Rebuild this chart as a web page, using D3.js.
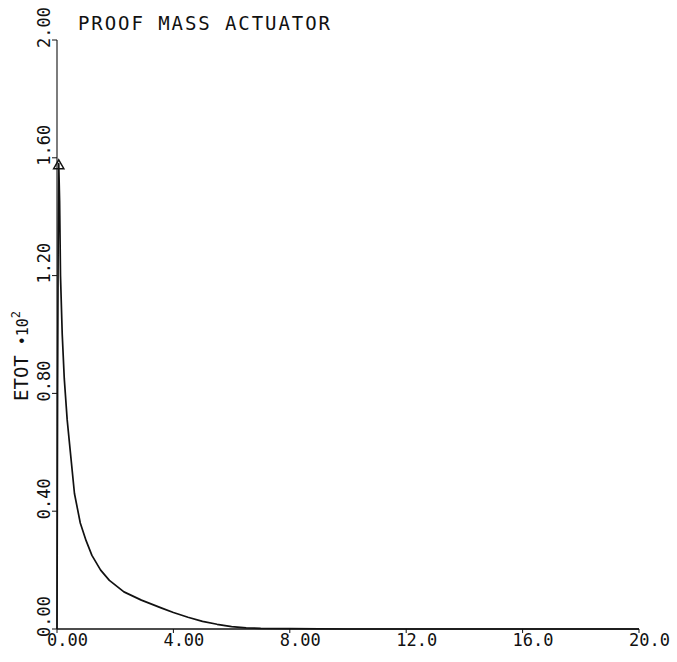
<!DOCTYPE html>
<html>
<head>
<meta charset="utf-8">
<script src="https://cdn.jsdelivr.net/npm/d3@7"></script>
<style>
  body { margin: 0; background: #fff; }
  text { font-family: "DejaVu Sans Mono", monospace; fill: #111; }
</style>
</head>
<body>
<svg id="chart" width="677" height="662"></svg>
<script>
// values (time, ETOT / 100)
const timeVals = [0, 0.02, 0.04, 0.06, 0.09, 0.12, 0.18, 0.25, 0.35, 0.45, 0.6, 0.8, 1.0, 1.2, 1.5, 1.8, 2.3, 2.9, 3.6, 4.0, 4.5, 5.0, 5.5, 6.0, 6.5, 7.0, 8.0, 10.0, 14.0, 20.0];
const etotVals = [0, 0.8, 1.3, 1.58, 1.45, 1.2, 1.0, 0.85, 0.71, 0.61, 0.46, 0.36, 0.3, 0.25, 0.2, 0.165, 0.126, 0.098, 0.071, 0.056, 0.04, 0.026, 0.016, 0.008, 0.004, 0.002, 0.001, 0, 0, 0];
const xTicks = [0, 4, 8, 12, 16, 20];
const xTickLabels = ["0.00", "4.00", "8.00", "12.0", "16.0", "20.0"];
const yTicks = [0, 0.4, 0.8, 1.2, 1.6, 2.0];
const yTickLabels = ["0.00", "0.40", "0.80", "1.20", "1.60", "2.00"];
const peakIndex = 3;

const svg = d3.select("#chart");

const x = d3.scaleLinear().domain([0, 20]).range([57, 639]);
const y = d3.scaleLinear().domain([0, 2]).range([629, 40]);

// axes lines
svg.append("line")
  .attr("x1", x(0)).attr("x2", x(20))
  .attr("y1", y(0)).attr("y2", y(0))
  .attr("stroke", "#111").attr("stroke-width", 1.3);
svg.append("line")
  .attr("x1", x(0)).attr("x2", x(0))
  .attr("y1", y(0)).attr("y2", y(2))
  .attr("stroke", "#111").attr("stroke-width", 1.1);

// x ticks
svg.selectAll("line.xtick")
  .data(xTicks)
  .enter()
  .append("line")
  .classed("xtick", true)
  .attr("x1", function (d) { return x(d); })
  .attr("x2", function (d) { return x(d); })
  .attr("y1", y(0))
  .attr("y2", y(0) + 4)
  .attr("stroke", "#111");

svg.selectAll("text.xlabel")
  .data(xTicks)
  .enter()
  .append("text")
  .classed("xlabel", true)
  .attr("x", function (d) { return x(d) - 10; })
  .attr("y", 646)
  .attr("font-size", 17)
  .attr("fill", "#444")
  .text(function (d, i) { return xTickLabels[i]; });

// y ticks
svg.selectAll("line.ytick")
  .data(yTicks)
  .enter()
  .append("line")
  .classed("ytick", true)
  .attr("x1", x(0) - 5)
  .attr("x2", x(0))
  .attr("y1", function (d) { return y(d); })
  .attr("y2", function (d) { return y(d); })
  .attr("stroke", "#111");

svg.selectAll("text.ylabel")
  .data(yTicks)
  .enter()
  .append("text")
  .classed("ylabel", true)
  .attr("transform", function (d) {
    return "translate(50," + (y(d) + 8) + ") rotate(-90)";
  })
  .attr("font-size", 17)
  .text(function (d, i) { return yTickLabels[i]; });

// axis title
const yTitle = svg.append("text")
  .attr("transform", "translate(28,401) rotate(-90)")
  .attr("font-size", 19);
yTitle.append("tspan").text("ETOT");
yTitle.append("tspan").attr("font-size", 15).attr("dx", 10).text("•10");
yTitle.append("tspan").attr("font-size", 12).attr("dy", -8).text("2");

// title
svg.append("text")
  .attr("x", 78)
  .attr("y", 30)
  .attr("font-size", 19)
  .attr("textLength", 252)
  .attr("lengthAdjust", "spacing")
  .text("PROOF MASS ACTUATOR");

// curve
const line = d3.line()
  .x(function (d) { return x(d[0]); })
  .y(function (d) { return y(d[1]); });

const pts = timeVals.map(function (t, i) { return [t, etotVals[i]]; });

svg.append("path")
  .datum(pts)
  .attr("d", line)
  .attr("fill", "none")
  .attr("stroke", "#111")
  .attr("stroke-width", 1.7)
  .attr("stroke-linejoin", "round");

// peak marker
svg.append("path")
  .attr("d", d3.symbol().type(d3.symbolTriangle).size(45)())
  .attr("transform", "translate(" + x(timeVals[peakIndex]) + "," + (y(etotVals[peakIndex]) + 2) + ")")
  .attr("fill", "none")
  .attr("stroke", "#111")
  .attr("stroke-width", 1.5);
</script>
</body>
</html>
